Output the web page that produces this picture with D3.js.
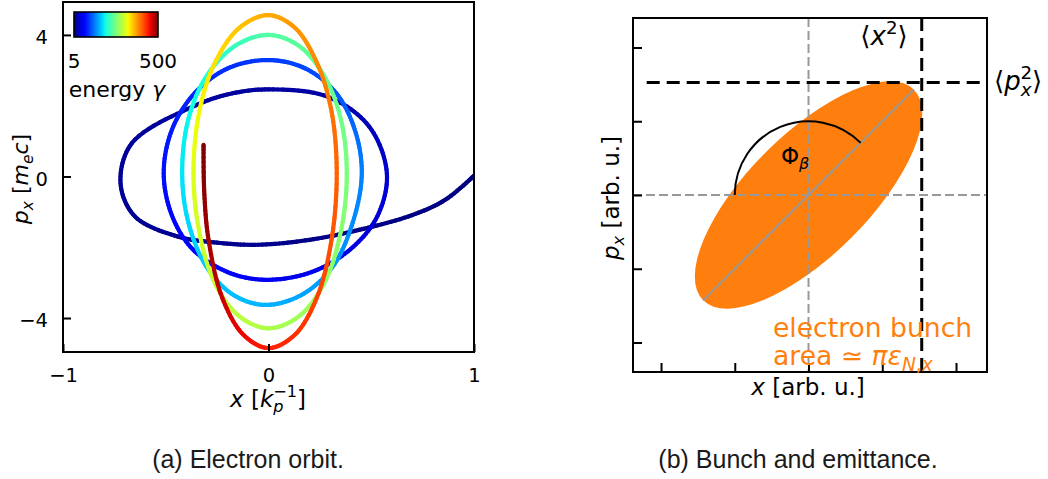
<!DOCTYPE html>
<html>
<head>
<meta charset="utf-8">
<script src="https://cdn.jsdelivr.net/npm/d3@7"></script>
<style>
  html, body { margin: 0; padding: 0; background: #fff; }
  svg { display: block; font-family: "DejaVu Sans", sans-serif; }
</style>
</head>
<body>
<svg id="fig" width="1048" height="479"></svg>
<script>
// ---- (a) electron orbit in transverse phase space ----
// positions x [1/kp], momenta px [me c] and energy gamma along the orbit
const orbitX = [1.00, 0.86, 0.70, 0.44, 0.20, -0.05, -0.25, -0.44, -0.65, -0.72, -0.665, -0.37, -0.19, 0.00, 0.29, 0.49, 0.576,
  0.53, 0.40, 0.21, -0.016, -0.20, -0.37, -0.47, -0.51, -0.47, -0.36, -0.20, 0.00, 0.18, 0.33, 0.42, 0.454,
  0.41, 0.31, 0.16, -0.016, -0.17, -0.30, -0.39, -0.42, -0.39, -0.30, -0.16, 0.00, 0.146, 0.27, 0.352, 0.381,
  0.352, 0.27, 0.146, 0.00, -0.14, -0.26, -0.337, -0.365, -0.337, -0.26, -0.14, 0.00, 0.127, 0.235, 0.307, 0.332,
  0.307, 0.235, 0.127, 0.00, -0.121, -0.225, -0.292, -0.313, -0.316];
const orbitP = [0.02, -0.66, -1.09, -1.51, -1.79, -1.93, -1.87, -1.70, -1.13, -0.19, 0.94, 1.97, 2.33, 2.46, 2.25, 1.41, 0.09,
  -1.12, -2.05, -2.70, -2.92, -2.70, -2.05, -1.10, 0.09, 1.32, 2.35, 3.05, 3.29, 3.05, 2.35, 1.32, 0.09,
  -1.30, -2.57, -3.35, -3.63, -3.35, -2.57, -1.30, 0.09, 1.62, 2.85, 3.70, 4.00, 3.70, 2.85, 1.62, 0.09,
  -1.56, -3.03, -3.96, -4.29, -3.96, -3.03, -1.56, 0.09, 1.83, 3.22, 4.21, 4.56, 4.21, 3.22, 1.83, 0.09,
  -1.78, -3.43, -4.48, -4.85, -4.48, -3.43, -1.78, -0.40, 0.89];
const orbitGamma = [5.0, 5.05, 5.1, 5.15, 5.2, 5.3, 5.33, 5.36, 5.4, 5.5, 5.55, 5.6, 5.65, 5.7, 5.8, 6.2, 6.9,
  7.1, 7.4, 7.65, 7.9, 8.2, 8.6, 9.0, 9.5, 9.9, 10.4, 10.9, 11.5, 12.2, 13.0, 14.2, 15.8,
  16.6, 17.5, 18.6, 19.9, 21, 22, 23.5, 25, 27, 30, 34, 39.7, 42, 44, 47, 50,
  53, 57, 61, 66, 70, 75, 81, 87, 97, 110, 126, 144, 157, 170, 187, 205,
  222, 240, 260, 282, 320, 370, 430, 475, 500];
const orbitXTicks = [-1, 0, 1];
const orbitPTicks = [-4, 0, 4];
const gammaRange = [5, 500];

// ---- (b) bunch ellipse and emittance ----
const bunchSemiMajor = 2.02;
const bunchSemiMinor = 0.82;
const bunchTiltDeg = 45;
const rmsX = 1.535;
const rmsP = 1.525;
const phaseArcRadius = 1.0;
const bunchTicks = [-2, -1, 0, 1, 2];

const captions = ["(a) Electron orbit.", "(b) Bunch and emittance."];

// matplotlib-style jet colormap
const jetR = [[0, 0], [0.35, 0], [0.66, 1], [0.89, 1], [1, 0.5]];
const jetG = [[0, 0], [0.125, 0], [0.375, 1], [0.64, 1], [0.91, 0], [1, 0]];
const jetB = [[0, 0.5], [0.11, 1], [0.34, 1], [0.65, 0], [1, 0]];
function piece(tab, t) {
  for (let i = 1; i < tab.length; i++) {
    if (t <= tab[i][0]) {
      const [t0, v0] = tab[i - 1], [t1, v1] = tab[i];
      return v0 + (v1 - v0) * (t - t0) / (t1 - t0);
    }
  }
  return tab[tab.length - 1][1];
}
function jet(t) {
  t = Math.max(0, Math.min(1, t));
  return d3.rgb(255 * piece(jetR, t), 255 * piece(jetG, t), 255 * piece(jetB, t)).formatHex();
}

const svg = d3.select("#fig");
const defs = svg.append("defs");

// text with italic symbols, sub- and superscripts
function mathText(parent, parts, size) {
  const t = parent.append("text").attr("font-size", size);
  let shift = 0;
  for (const p of parts) {
    const small = p.sub || p.sup;
    const s = small ? size * 0.7 : size;
    const target = p.sub ? size * 0.22 : p.sup ? -size * 0.42 : 0;
    const ts = t.append("tspan").text(p.t).attr("font-size", s).attr("dy", target - shift);
    shift = target;
    if (p.it) ts.attr("font-style", "italic");
    if (p.dx) ts.attr("dx", p.dx * s);
  }
  return t;
}

// ================= panel (a) =================
const A = { x0: 63, x1: 474, y0: 2, y1: 352 };
const xa = d3.scaleLinear().domain([-1, 1]).range([A.x0, A.x1]);
const ya = d3.scaleLinear().domain([-4.96, 4.93]).range([A.y1, A.y0]);
const gammaColor = d3.scaleSequentialLog(jet).domain(gammaRange);

defs.append("clipPath").attr("id", "clipA")
  .append("rect").attr("x", A.x0).attr("y", A.y0)
  .attr("width", A.x1 - A.x0).attr("height", A.y1 - A.y0);

const ga = svg.append("g");
const orbitG = ga.append("g").attr("clip-path", "url(#clipA)");

const orbit = orbitX.map((x, i) => ({ x, p: orbitP[i], g: orbitGamma[i] }));

// collect the Catmull-Rom bezier pieces emitted by d3.line
const pieces = [];
let pen = null;
const recorder = {
  moveTo(x, y) { pen = [x, y]; },
  lineTo(x, y) { pieces.push([pen, pen, [x, y], [x, y]]); pen = [x, y]; },
  bezierCurveTo(a, b, c, d, e, f) { pieces.push([pen, [a, b], [c, d], [e, f]]); pen = [e, f]; },
  closePath() {}
};
d3.line().x(d => xa(d.x)).y(d => ya(d.p))
  .curve(d3.curveCatmullRom.alpha(0.5)).context(recorder)(orbit);

function bez(q, u) {
  const v = 1 - u;
  return [
    v * v * v * q[0][0] + 3 * v * v * u * q[1][0] + 3 * v * u * u * q[2][0] + u * u * u * q[3][0],
    v * v * v * q[0][1] + 3 * v * v * u * q[1][1] + 3 * v * u * u * q[2][1] + u * u * u * q[3][1]
  ];
}
const steps = 12;
pieces.forEach((q, i) => {
  const g0 = Math.log(orbit[i].g), g1 = Math.log(orbit[i + 1].g);
  for (let k = 0; k < steps; k++) {
    const u0 = k / steps, u1 = (k + 1) / steps;
    const a = bez(q, u0), b = bez(q, u1);
    const gm = Math.exp(g0 + (g1 - g0) * (u0 + u1) / 2);
    orbitG.append("line")
      .attr("x1", a[0]).attr("y1", a[1]).attr("x2", b[0]).attr("y2", b[1])
      .attr("stroke", gammaColor(gm))
      .attr("stroke-width", 4.2)
      .attr("stroke-linecap", "round");
  }
});

// axes of panel (a)
const axA_y = ga.append("g").attr("transform", `translate(${A.x0},0)`)
  .call(d3.axisLeft(ya).tickValues(orbitPTicks).tickSizeInner(-8).tickSizeOuter(0).tickPadding(15)
    .tickFormat(d => d < 0 ? "\u2212" + Math.abs(d) : d));
const axA_x = ga.append("g").attr("transform", `translate(0,${A.y1})`)
  .call(d3.axisBottom(xa).tickValues(orbitXTicks).tickSizeInner(-8).tickSizeOuter(0).tickPadding(16)
    .tickFormat(d => d < 0 ? "\u2212" + Math.abs(d) : d));
[axA_y, axA_x].forEach(ax => {
  ax.select(".domain").remove();
  ax.selectAll("line").attr("stroke", "#000").attr("stroke-width", 2);
  ax.selectAll("text").attr("font-size", 19.5).attr("font-family", "DejaVu Sans").attr("fill", "#000");
});
axA_y.selectAll("text").attr("dy", "0.45em");

ga.append("rect").attr("x", A.x0).attr("y", A.y0)
  .attr("width", A.x1 - A.x0).attr("height", A.y1 - A.y0)
  .attr("fill", "none").attr("stroke", "#000").attr("stroke-width", 2);

// axis titles
mathText(ga, [{ t: "x", it: true }, { t: " [" }, { t: "k", it: true },
  { t: "p", it: true, sub: true }, { t: "\u22121", sup: true, dx: -0.64 }, { t: "]" }], 23)
  .attr("x", 268).attr("y", 407).attr("text-anchor", "middle");
mathText(ga, [{ t: "p", it: true }, { t: "x", it: true, sub: true }, { t: " [" }, { t: "m", it: true },
  { t: "e", it: true, sub: true }, { t: "c", it: true }, { t: "]" }], 22)
  .attr("text-anchor", "middle").attr("transform", "translate(28,179) rotate(-90)");

// energy colour bar
const cb = { x0: 74, x1: 158, y0: 12, y1: 37 };
const grad = defs.append("linearGradient").attr("id", "jetGrad")
  .attr("x1", "0%").attr("x2", "100%").attr("y1", "0%").attr("y2", "0%");
d3.range(0, 1.0001, 0.02).forEach(t => {
  grad.append("stop").attr("offset", (t * 100) + "%").attr("stop-color", jet(t));
});
const cbScale = d3.scaleLog().domain(gammaRange).range([cb.x0, cb.x1]);
ga.append("rect").attr("x", cbScale(gammaRange[0])).attr("y", cb.y0)
  .attr("width", cbScale(gammaRange[1]) - cbScale(gammaRange[0])).attr("height", cb.y1 - cb.y0)
  .attr("fill", "url(#jetGrad)").attr("stroke", "#000").attr("stroke-width", 1.6);
gammaRange.forEach(v => {
  ga.append("text").attr("x", cbScale(v)).attr("y", 68).attr("text-anchor", "middle")
    .attr("font-size", 20).text(v);
});
mathText(ga, [{ t: "energy " }, { t: "\u03b3", it: true }], 22)
  .attr("x", 117).attr("y", 97).attr("text-anchor", "middle");

// ================= panel (b) =================
const B = { x0: 633, x1: 987, y0: 18, y1: 372 };
const xb = d3.scaleLinear().domain([-2.38, 2.42]).range([B.x0, B.x1]);
const yb = d3.scaleLinear().domain([-2.4, 2.4]).range([B.y1, B.y0]);
const gb = svg.append("g");

defs.append("clipPath").attr("id", "clipB")
  .append("rect").attr("x", B.x0).attr("y", B.y0)
  .attr("width", B.x1 - B.x0).attr("height", B.y1 - B.y0);
const plotB = gb.append("g").attr("clip-path", "url(#clipB)");

// bunch ellipse
plotB.append("ellipse")
  .attr("cx", xb(0)).attr("cy", yb(0))
  .attr("rx", xb(bunchSemiMajor) - xb(0)).attr("ry", yb(0) - yb(bunchSemiMinor))
  .attr("transform", `rotate(${-bunchTiltDeg},${xb(0)},${yb(0)})`)
  .attr("fill", "#ff7f0e");

// centre lines
plotB.append("line").attr("x1", xb(0)).attr("x2", xb(0)).attr("y1", B.y0).attr("y2", B.y1)
  .attr("stroke", "#999").attr("stroke-width", 2).attr("stroke-dasharray", "9,4");
plotB.append("line").attr("x1", B.x0).attr("x2", B.x1).attr("y1", yb(0)).attr("y2", yb(0))
  .attr("stroke", "#999").attr("stroke-width", 2).attr("stroke-dasharray", "9,4");

// major axis of the ellipse
const th = bunchTiltDeg * Math.PI / 180;
plotB.append("line")
  .attr("x1", xb(-bunchSemiMajor * Math.cos(th))).attr("y1", yb(-bunchSemiMajor * Math.sin(th)))
  .attr("x2", xb(bunchSemiMajor * Math.cos(th))).attr("y2", yb(bunchSemiMajor * Math.sin(th)))
  .attr("stroke", "#999").attr("stroke-width", 2);

// rms size lines
plotB.append("line").attr("x1", xb(rmsX)).attr("x2", xb(rmsX)).attr("y1", B.y0).attr("y2", B.y1)
  .attr("stroke", "#000").attr("stroke-width", 3).attr("stroke-dasharray", "13,7");
plotB.append("line").attr("x1", B.x0 + 13.7).attr("x2", B.x1).attr("y1", yb(rmsP)).attr("y2", yb(rmsP))
  .attr("stroke", "#000").attr("stroke-width", 3).attr("stroke-dasharray", "13,7");

// phase advance arc
const rpx = xb(phaseArcRadius) - xb(0);
const arcPath = d3.path();
arcPath.arc(xb(0), yb(0), rpx, Math.PI, 2 * Math.PI - th, false);
plotB.append("path").attr("d", arcPath.toString())
  .attr("fill", "none").attr("stroke", "#000").attr("stroke-width", 2);

// axes of panel (b)
const axB_y = gb.append("g").attr("transform", `translate(${B.x0},0)`)
  .call(d3.axisLeft(yb).tickValues(bunchTicks).tickSizeInner(-9).tickSizeOuter(0).tickFormat(""));
const axB_x = gb.append("g").attr("transform", `translate(0,${B.y1})`)
  .call(d3.axisBottom(xb).tickValues(bunchTicks).tickSizeInner(-9).tickSizeOuter(0).tickFormat(""));
[axB_y, axB_x].forEach(ax => {
  ax.select(".domain").remove();
  ax.selectAll("line").attr("stroke", "#000").attr("stroke-width", 2);
});
gb.append("rect").attr("x", B.x0).attr("y", B.y0)
  .attr("width", B.x1 - B.x0).attr("height", B.y1 - B.y0)
  .attr("fill", "none").attr("stroke", "#000").attr("stroke-width", 2);

// labels
mathText(gb, [{ t: "\u03a6" }, { t: "\u03b2", it: true, sub: true }], 23)
  .attr("x", 781).attr("y", 164);
mathText(gb, [{ t: "\u27e8" }, { t: "x", it: true }, { t: "2", sup: true }, { t: "\u27e9" }], 26)
  .attr("x", 884).attr("y", 45).attr("text-anchor", "middle");
mathText(gb, [{ t: "\u27e8" }, { t: "p", it: true }, { t: "x", it: true, sub: true },
  { t: "2", sup: true, dx: -0.6 }, { t: "\u27e9" }], 26)
  .attr("x", 994).attr("y", 90);
mathText(gb, [{ t: "x", it: true }, { t: " [arb. u.]" }], 23)
  .attr("x", 808).attr("y", 395).attr("text-anchor", "middle");
mathText(gb, [{ t: "p", it: true }, { t: "x", it: true, sub: true }, { t: " [arb. u.]" }], 23)
  .attr("text-anchor", "middle").attr("transform", "translate(619,198) rotate(-90)");

gb.append("text").attr("x", 773).attr("y", 337).attr("font-size", 26.6)
  .attr("fill", "#ff7f0e").text("electron bunch");
mathText(gb, [{ t: "area \u2243 " }, { t: "\u03c0\u03b5", it: true }, { t: "N", it: true, sub: true },
  { t: ",", sub: true }, { t: "x", it: true, sub: true }], 26.6)
  .attr("x", 773).attr("y", 365).attr("fill", "#ff7f0e");

// captions
svg.append("text").attr("x", 248).attr("y", 468).attr("text-anchor", "middle")
  .attr("font-family", "Liberation Sans, sans-serif").attr("font-size", 25).attr("fill", "#1a1a1a")
  .text(captions[0]);
svg.append("text").attr("x", 798).attr("y", 468).attr("text-anchor", "middle")
  .attr("font-family", "Liberation Sans, sans-serif").attr("font-size", 25).attr("fill", "#1a1a1a")
  .text(captions[1]);
</script>
</body>
</html>
